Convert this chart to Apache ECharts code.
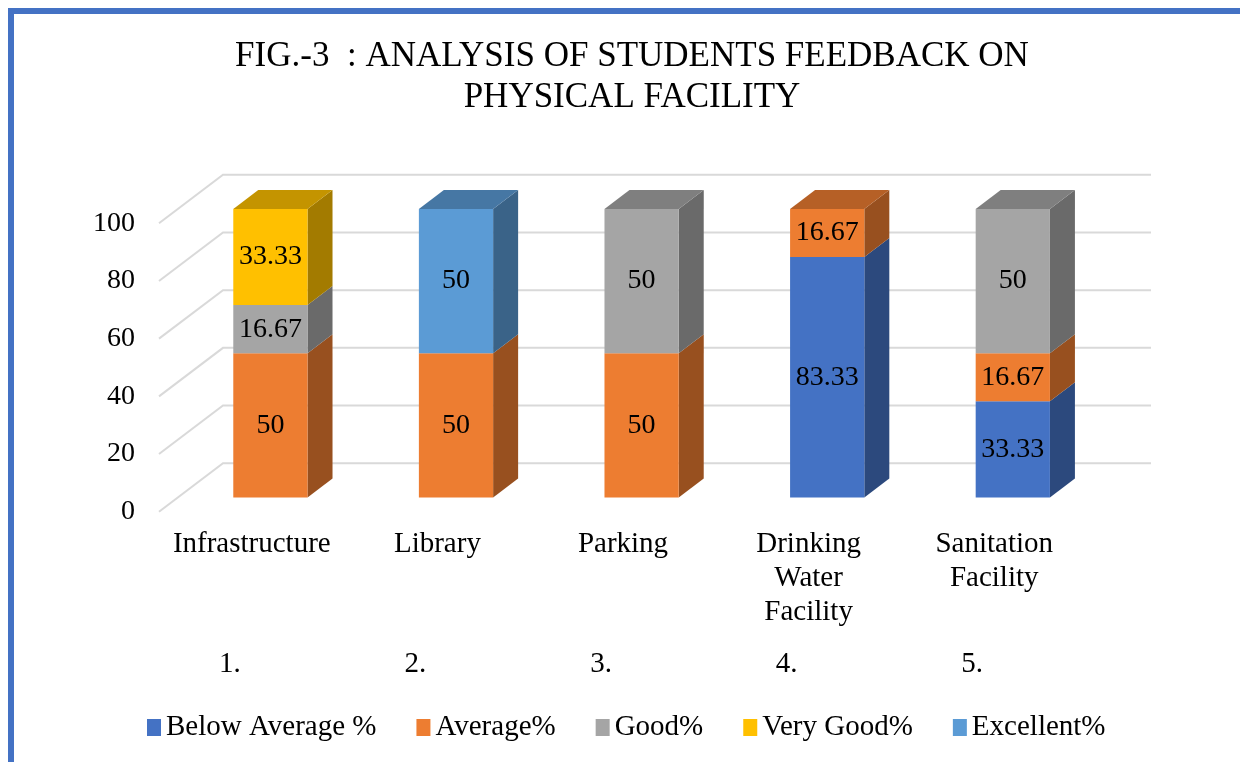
<!DOCTYPE html>
<html>
<head>
<meta charset="utf-8">
<script src="https://cdn.jsdelivr.net/npm/echarts@6/dist/echarts.min.js"></script>
<style>
    html, body { margin: 0; padding: 0; background: #ffffff; }
    #chart { width: 1240px; height: 762px; }
</style>
</head>
<body>
<div id="chart"></div>
<script>
// chart data
const categories = ['Infrastructure', 'Library', 'Parking', 'Drinking\nWater\nFacility', 'Sanitation\nFacility']
const serialLabels = ['1.', '2.', '3.', '4.', '5.']
const seriesNames = ['Below Average %', 'Average%', 'Good%', 'Very Good%', 'Excellent%']
const belowAverage = [0, 0, 0, 83.33, 33.33]
const average = [50, 50, 50, 16.67, 16.67]
const good = [16.67, 0, 50, 0, 50]
const veryGood = [33.33, 0, 0, 0, 0]
const excellent = [0, 50, 0, 0, 0]
const yTicks = [0, 20, 40, 60, 80, 100]

const seriesValues = [belowAverage, average, good, veryGood, excellent]
const colors = ['#4472C4', '#ED7D31', '#A5A5A5', '#FFC000', '#5B9BD5']
const FONT = 'Liberation Serif'

// pseudo 3d offsets (pixels)
const wallDx = 64, wallDy = -48.5
const barShiftX = 18.6, barShiftY = -14.3
const depthDx = 25, depthDy = -19

function shade(hex, f) {
    const n = parseInt(hex.slice(1), 16)
    const r = Math.round(((n >> 16) & 255) * f)
    const g = Math.round(((n >> 8) & 255) * f)
    const b = Math.round((n & 255) * f)
    return 'rgb(' + r + ',' + g + ',' + b + ')'
}

function totals() {
    return categories.map((c, i) => seriesValues.reduce((s, arr) => s + arr[i], 0))
}

function buildBarSeries() {
    const tot = totals()
    return seriesNames.map((name, si) => {
        const data = []
        categories.forEach((c, ci) => {
            const v = seriesValues[si][ci]
            if (!v) return
            let base = 0
            for (let k = 0; k < si; k++) base += seriesValues[k][ci]
            data.push([ci, base, v, base + v >= tot[ci] - 0.001 ? 1 : 0])
        })
        const color = colors[si]
        return {
            name: name,
            type: 'custom',
            itemStyle: { color: color },
            silent: true,
            z: 5 + si,
            encode: { x: 0, y: [1, 2] },
            data: data,
            renderItem: function (params, api) {
                const ci = api.value(0), base = api.value(1), v = api.value(2), isTop = api.value(3)
                const p0 = api.coord([ci, base])
                const p1 = api.coord([ci, base + v])
                const bw = api.size([1, 0])[0] * 0.4
                const cx = p0[0] + barShiftX
                const yb = p0[1] + barShiftY
                const yt = p1[1] + barShiftY
                const xl = cx - bw / 2, xr = cx + bw / 2
                const children = [
                    {
                        type: 'polygon',
                        shape: { points: [[xr, yb], [xr + depthDx, yb + depthDy], [xr + depthDx, yt + depthDy], [xr, yt]] },
                        style: { fill: shade(color, 0.64) }
                    },
                    {
                        type: 'rect',
                        shape: { x: xl, y: yt, width: bw, height: yb - yt },
                        style: { fill: color }
                    }
                ]
                if (isTop) {
                    children.push({
                        type: 'polygon',
                        shape: { points: [[xl, yt], [xr, yt], [xr + depthDx, yt + depthDy], [xl + depthDx, yt + depthDy]] },
                        style: { fill: shade(color, 0.77) }
                    })
                }
                children.push({
                    type: 'text',
                    x: cx,
                    y: (yt + yb) / 2,
                    style: {
                        text: String(v),
                        fill: '#000000',
                        font: '28px "' + FONT + '"',
                        align: 'center',
                        verticalAlign: 'middle'
                    }
                })
                return { type: 'group', children: children }
            }
        }
    })
}

const wallSeries = {
    type: 'custom',
    silent: true,
    z: 1,
    encode: { x: 0, y: 1 },
    data: yTicks.map(t => [0, t]),
    renderItem: function (params, api) {
        const y = api.coord([0, api.value(1)])[1]
        const x0 = params.coordSys.x
        const x1 = params.coordSys.x + params.coordSys.width
        return {
            type: 'polyline',
            shape: { points: [[x0, y], [x0 + wallDx, y + wallDy], [x1 + wallDx, y + wallDy]] },
            style: { stroke: '#D9D9D9', lineWidth: 2, fill: null }
        }
    }
}

const option = {
    animation: false,
    backgroundColor: '#ffffff',
    title: {
        text: 'FIG.-3  : ANALYSIS OF STUDENTS FEEDBACK ON\nPHYSICAL FACILITY',
        left: 627,
        top: 31,
        textAlign: 'center',
        textStyle: { fontFamily: FONT, fontSize: 35, fontWeight: 'normal', color: '#000000', lineHeight: 41 }
    },
    legend: {
        data: seriesNames,
        left: 142,
        top: 708,
        icon: 'rect',
        itemWidth: 14,
        itemHeight: 17,
        itemGap: 40,
        textStyle: { fontFamily: FONT, fontSize: 29, color: '#000000' }
    },
    grid: { left: 159, right: 153, top: 223.3, bottom: 250.3 },
    xAxis: [
        {
            type: 'category',
            data: categories,
            axisLine: { show: false },
            axisTick: { show: false },
            axisLabel: { fontFamily: FONT, fontSize: 29, color: '#000000', lineHeight: 34, margin: 16, interval: 0 }
        },
        {
            type: 'category',
            data: serialLabels,
            position: 'bottom',
            offset: 138,
            axisLine: { show: false },
            axisTick: { show: false },
            axisLabel: { fontFamily: FONT, fontSize: 29, color: '#000000', margin: 0, interval: 0, padding: [0, 44, 0, 0] }
        }
    ],
    yAxis: {
        type: 'value',
        min: 0,
        max: 100,
        interval: 20,
        axisLine: { show: false },
        axisTick: { show: false },
        splitLine: { show: false },
        axisLabel: { fontFamily: FONT, fontSize: 28, color: '#000000', margin: 24 }
    },
    graphic: [
        {
            type: 'polyline',
            shape: { points: [[11, 762], [11, 11], [1240, 11]] },
            style: { stroke: '#4472C4', lineWidth: 6, fill: null },
            z: 100
        }
    ],
    series: [wallSeries].concat(buildBarSeries())
}

const chart = echarts.init(document.getElementById('chart'))
chart.setOption(option)
</script>
</body>
</html>
